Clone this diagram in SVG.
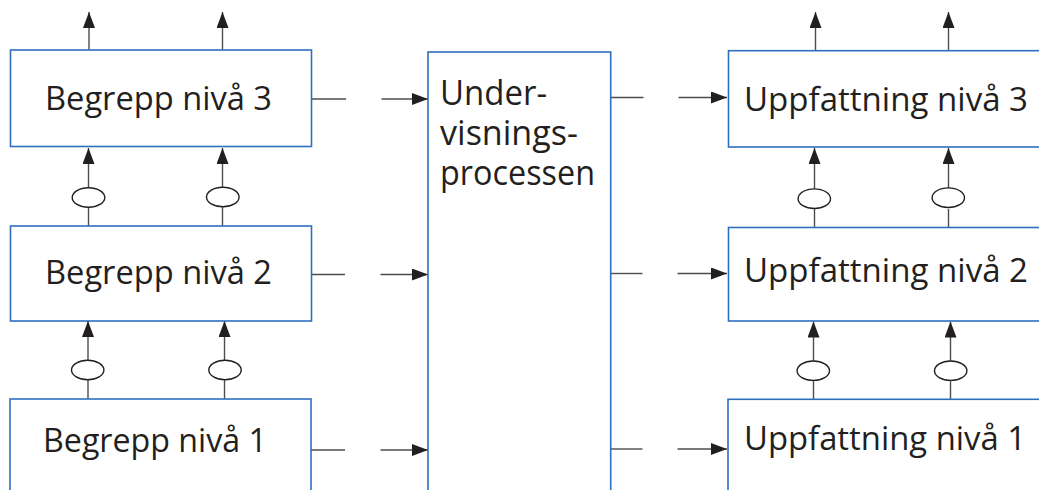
<svg xmlns="http://www.w3.org/2000/svg" width="1039" height="490" viewBox="0 0 1039 490">
  <defs>
    <marker id="ah" viewBox="0 0 16 12" refX="16" refY="6" markerWidth="16" markerHeight="12" markerUnits="userSpaceOnUse" orient="auto">
      <path d="M0,0 L16,6 L0,12 Z" fill="#231f20"/>
    </marker>
    <style>
      .box { fill: #fff; stroke: #2f6fbf; stroke-width: 1.6; }
      .lbl { font-family: "Open Sans", "Noto Sans", sans-serif; font-size: 32px; fill: #231f20; }
      .mid { font-family: "Open Sans", "Noto Sans", sans-serif; font-size: 34px; fill: #231f20; }
      .ln { stroke: #4d4d4f; stroke-width: 1.4; fill: none; }
      .arr { stroke: #4d4d4f; stroke-width: 1.4; fill: none; marker-end: url(#ah); }
      .ov { fill: #fff; stroke: #231f20; stroke-width: 1.4; }
    </style>
  </defs>

  <rect width="1039" height="490" fill="#fff"/>

  <!-- connectors -->
  <g id="connectors">
    <!-- outgoing arrows above the top boxes -->
    <line class="arr" x1="89" y1="50" x2="89" y2="12"/>
    <line class="arr" x1="222.5" y1="50" x2="222.5" y2="12"/>
    <line class="arr" x1="815.5" y1="51" x2="815.5" y2="12"/>
    <line class="arr" x1="948.5" y1="51" x2="948.5" y2="12"/>

    <!-- left column: level 2 -> level 3 -->
    <line class="ln" x1="88.5" y1="226" x2="88.5" y2="207"/>
    <line class="arr" x1="88.5" y1="188" x2="88.5" y2="148"/>
    <line class="ln" x1="222.5" y1="226" x2="222.5" y2="207"/>
    <line class="arr" x1="222.5" y1="188" x2="222.5" y2="148"/>
    <!-- left column: level 1 -> level 2 -->
    <line class="ln" x1="88" y1="399" x2="88" y2="380"/>
    <line class="arr" x1="88" y1="360" x2="88" y2="321"/>
    <line class="ln" x1="224.5" y1="399" x2="224.5" y2="380"/>
    <line class="arr" x1="224.5" y1="360" x2="224.5" y2="321"/>

    <!-- right column: level 2 -> level 3 -->
    <line class="ln" x1="814.5" y1="227.5" x2="814.5" y2="209"/>
    <line class="arr" x1="814.5" y1="189" x2="814.5" y2="148"/>
    <line class="ln" x1="948.5" y1="227.5" x2="948.5" y2="209"/>
    <line class="arr" x1="948.5" y1="189" x2="948.5" y2="148"/>
    <!-- right column: level 1 -> level 2 -->
    <line class="ln" x1="813.5" y1="399" x2="813.5" y2="380.5"/>
    <line class="arr" x1="813.5" y1="361" x2="813.5" y2="321.5"/>
    <line class="ln" x1="950.5" y1="399" x2="950.5" y2="380.5"/>
    <line class="arr" x1="950.5" y1="361" x2="950.5" y2="321.5"/>

    <!-- concepts -> teaching process (broken lines) -->
    <line class="ln" x1="312" y1="99" x2="346" y2="99"/>
    <line class="arr" x1="381.5" y1="99" x2="428" y2="99"/>
    <line class="ln" x1="312" y1="274.5" x2="345" y2="274.5"/>
    <line class="arr" x1="380.5" y1="274.5" x2="428" y2="274.5"/>
    <line class="ln" x1="311" y1="450" x2="345" y2="450"/>
    <line class="arr" x1="380.5" y1="450" x2="428" y2="450"/>

    <!-- teaching process -> conceptions (broken lines) -->
    <line class="ln" x1="611" y1="97.5" x2="643.5" y2="97.5"/>
    <line class="arr" x1="678.5" y1="97.5" x2="727" y2="97.5"/>
    <line class="ln" x1="611" y1="273.5" x2="642.5" y2="273.5"/>
    <line class="arr" x1="677.5" y1="273.5" x2="727" y2="273.5"/>
    <line class="ln" x1="611" y1="449" x2="642.5" y2="449"/>
    <line class="arr" x1="677.5" y1="449" x2="727" y2="449"/>

    <!-- ovals on the vertical links -->
    <ellipse class="ov" cx="88.5" cy="197.5" rx="16.3" ry="9.8"/>
    <ellipse class="ov" cx="222.8" cy="197" rx="16.3" ry="9.8"/>
    <ellipse class="ov" cx="87.7" cy="370" rx="16.2" ry="9.7"/>
    <ellipse class="ov" cx="225" cy="370" rx="16.2" ry="9.7"/>
    <ellipse class="ov" cx="814.3" cy="198.7" rx="16.2" ry="9.8"/>
    <ellipse class="ov" cx="948.3" cy="197.7" rx="16.2" ry="9.8"/>
    <ellipse class="ov" cx="813.3" cy="370.7" rx="16.2" ry="9.7"/>
    <ellipse class="ov" cx="950.7" cy="370.7" rx="16.2" ry="9.7"/>
  </g>

  <!-- concept boxes -->
  <g id="begrepp3">
    <rect class="box" x="10.5" y="50" width="301" height="96.5"/>
    <text class="lbl" x="45" y="110" textLength="227" lengthAdjust="spacingAndGlyphs">Begrepp nivå 3</text>
  </g>
  <g id="begrepp2">
    <rect class="box" x="10.5" y="226" width="301" height="95"/>
    <text class="lbl" x="45" y="283.5" textLength="227" lengthAdjust="spacingAndGlyphs">Begrepp nivå 2</text>
  </g>
  <g id="begrepp1">
    <rect class="box" x="10" y="399" width="301" height="100"/>
    <text class="lbl" x="43" y="451.5" textLength="224" lengthAdjust="spacingAndGlyphs">Begrepp nivå 1</text>
  </g>

  <!-- teaching process -->
  <g id="undervisning">
    <rect class="box" x="428" y="52" width="182.7" height="450"/>
    <text class="mid" x="440" y="105" textLength="107" lengthAdjust="spacingAndGlyphs">Under-</text>
    <text class="mid" x="440" y="145" textLength="138" lengthAdjust="spacingAndGlyphs">visnings-</text>
    <text class="mid" x="440" y="185" textLength="155" lengthAdjust="spacingAndGlyphs">processen</text>
  </g>

  <!-- conception boxes -->
  <g id="uppfattning3">
    <rect class="box" x="728.5" y="50.7" width="320" height="96.3"/>
    <text class="lbl" x="744" y="111" textLength="284" lengthAdjust="spacingAndGlyphs">Uppfattning nivå 3</text>
  </g>
  <g id="uppfattning2">
    <rect class="box" x="728.5" y="227.5" width="320" height="93.5"/>
    <text class="lbl" x="744" y="282" textLength="284" lengthAdjust="spacingAndGlyphs">Uppfattning nivå 2</text>
  </g>
  <g id="uppfattning1">
    <rect class="box" x="728" y="399.3" width="320" height="100"/>
    <text class="lbl" x="744" y="450" textLength="282" lengthAdjust="spacingAndGlyphs">Uppfattning nivå 1</text>
  </g>
</svg>
